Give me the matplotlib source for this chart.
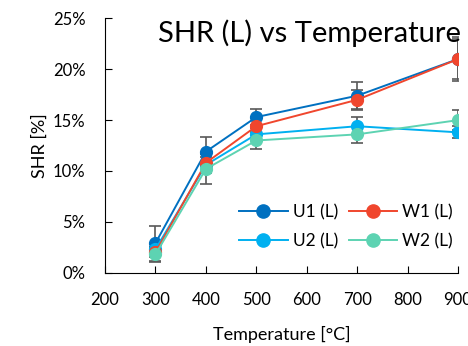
import matplotlib
matplotlib.use('agg')
import matplotlib.pyplot as plt
from matplotlib.lines import Line2D

plt.rcParams['font.family'] = ['Lato', 'DejaVu Sans']

temps = [300, 400, 500, 700, 900]

u1 = [2.9, 11.9, 15.3, 17.4, 21.0]
w1 = [2.0, 10.8, 14.4, 17.0, 21.0]
u2 = [2.3, 10.6, 13.6, 14.4, 13.8]
w2 = [1.8, 10.2, 13.0, 13.6, 15.0]

u1_err = [1.7, 1.4, 0.8, 1.3, 2.0]
w1_err = [0.5, 0.9, 0.8, 1.0, 2.2]
u2_err = [0.5, 0.8, 0.6, 0.9, 0.6]
w2_err = [0.7, 1.5, 0.8, 0.8, 1.0]

series = [
    ("U1 (L)", u1, u1_err, "#0070C0"),
    ("U2 (L)", u2, u2_err, "#00B0F0"),
    ("W1 (L)", w1, w1_err, "#F0462D"),
    ("W2 (L)", w2, w2_err, "#5DD3B2"),
]

fig = plt.figure(figsize=(4.68, 3.46), dpi=100)
ax = fig.add_axes([0.2244, 0.2118, 0.7542, 0.735])

handles = []
for name, vals, err, col in series:
    ax.errorbar(temps, vals, yerr=err, color=col, marker='o', markersize=8.5,
                linewidth=1.4, ecolor='#595959', elinewidth=1.2, capsize=4,
                capthick=1.2, zorder=3)
    handles.append(Line2D([], [], color=col, marker='o', markersize=9.5,
                          linewidth=1.4, label=name))

ax.set_xlim(200, 900)
ax.set_ylim(0, 25)
ax.set_xticks(range(200, 901, 100))
ax.set_yticks(range(0, 26, 5))
ax.set_yticklabels([f"{v}%" for v in range(0, 26, 5)])
ax.tick_params(direction='in', length=5, labelsize=12, pad=14)
ax.spines['top'].set_visible(False)
ax.spines['right'].set_visible(False)
ax.set_xlabel("Temperature [°C]", fontsize=13, labelpad=13)
ax.set_ylabel("SHR [%]", fontsize=13, labelpad=4)
ax.text(0.58, 0.995, "SHR (L) vs Temperature", transform=ax.transAxes,
        ha='center', va='top', fontsize=21)

ax.legend(handles=handles, ncol=2, loc='lower right', bbox_to_anchor=(1.03, 0.03),
          frameon=False, fontsize=12.5, handlelength=2.8, columnspacing=0.6,
          handletextpad=0.3, labelspacing=0.75)

fig.savefig("out.png", dpi=100)
